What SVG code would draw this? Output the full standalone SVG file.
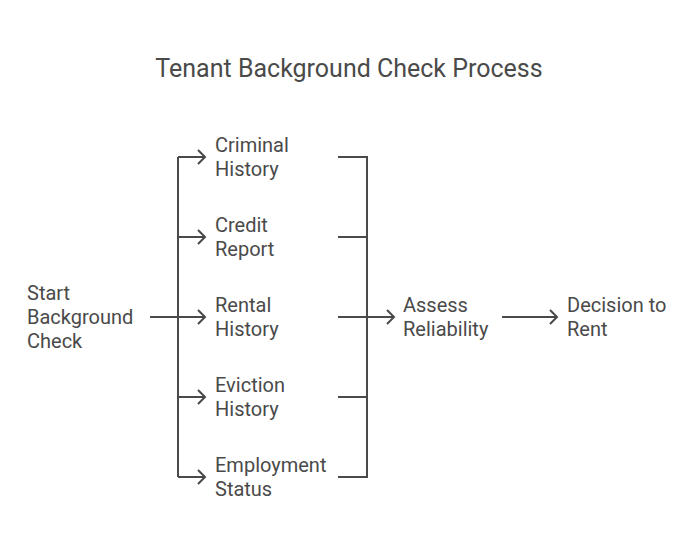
<svg xmlns="http://www.w3.org/2000/svg" width="698" height="550" viewBox="0 0 698 550">
<style>
text{font-family:Roboto,"Liberation Sans",sans-serif;fill:#4a4a4a;font-size:20px}
.title{font-size:25px}
.ln{fill:none;stroke:#4a4a4a;stroke-width:2}
</style>
<defs>
<marker id="ah" markerWidth="12" markerHeight="16" refX="9" refY="8" orient="auto" markerUnits="userSpaceOnUse">
<path d="M2,1 L9,8 L2,15" fill="none" stroke="#4a4a4a" stroke-width="2"/>
</marker>
</defs>
<rect width="698" height="550" fill="#fff"/>
<text class="title" x="349" y="77" text-anchor="middle">Tenant Background Check Process</text>
<g id="connectors">
<path class="ln" d="M150,317 H178"/>
<path class="ln" d="M178,157 V477"/>
<path class="ln" d="M178,157 H205" marker-end="url(#ah)"/>
<path class="ln" d="M178,237 H205" marker-end="url(#ah)"/>
<path class="ln" d="M178,317 H205" marker-end="url(#ah)"/>
<path class="ln" d="M178,397 H205" marker-end="url(#ah)"/>
<path class="ln" d="M178,477 H205" marker-end="url(#ah)"/>
<path class="ln" d="M338,157 H367 V477 H338"/>
<path class="ln" d="M338,237 H367"/>
<path class="ln" d="M338,397 H367"/>
<path class="ln" d="M338,317 H394" marker-end="url(#ah)"/>
<path class="ln" d="M502,317 H557" marker-end="url(#ah)"/>
</g>
<g id="start"><text x="27" y="300">Start</text><text x="27" y="324">Background</text><text x="27" y="348">Check</text></g>
<g id="criminal"><text x="215" y="152">Criminal</text><text x="215" y="176">History</text></g>
<g id="credit"><text x="215" y="232">Credit</text><text x="215" y="256">Report</text></g>
<g id="rental"><text x="215" y="312">Rental</text><text x="215" y="336">History</text></g>
<g id="eviction"><text x="215" y="392">Eviction</text><text x="215" y="416">History</text></g>
<g id="employment"><text x="215" y="472">Employment</text><text x="215" y="496">Status</text></g>
<g id="assess"><text x="403" y="312">Assess</text><text x="403" y="336">Reliability</text></g>
<g id="decision"><text x="567" y="312">Decision to</text><text x="567" y="336">Rent</text></g>
</svg>
